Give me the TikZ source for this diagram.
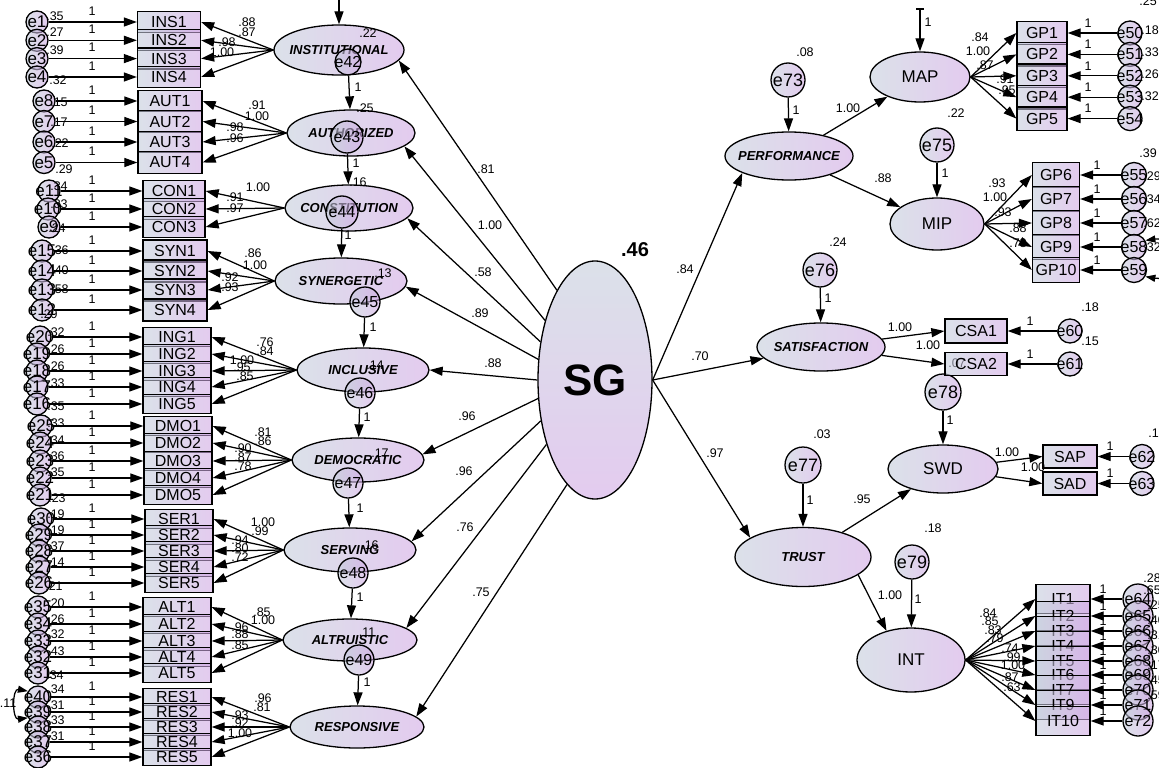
\documentclass[tikz,border=0pt]{standalone}
\usepackage{fontspec}
\setmainfont{Liberation Sans}
\usetikzlibrary{shapes.geometric,arrows.meta}
\definecolor{gL}{HTML}{C2CCDA}
\definecolor{gR}{HTML}{D0A6E4}
\newcommand{\zw}[1]{\makebox[0pt]{#1}}
\begin{document}
\begin{tikzpicture}[x=1pt,y=-1pt,
  base/.style={draw, line width=1.3pt, inner sep=0pt, fill opacity=0.58, text opacity=1, left color=gL, right color=gR},
  obs/.style={base, rectangle, font=\fontsize{16}{16}\selectfont},
  lat/.style={base, ellipse, font=\bfseries\itshape\fontsize{13}{13}\selectfont},
  latp/.style={base, ellipse, font=\fontsize{17}{17}\selectfont},
  errL/.style={base, circle, minimum size=22, font=\fontsize{17}{17}\selectfont},
  errR/.style={base, circle, font=\fontsize{16}{16}\selectfont},
  errB/.style={base, circle, font=\fontsize{18}{18}\selectfont},
  num/.style={inner sep=0pt, font=\fontsize{12.5}{12.5}\selectfont},
  arr/.style={line width=1.25pt, -{Triangle[length=13pt,width=9pt]}},
  cov/.style={line width=1.25pt, {Triangle[length=10pt,width=7pt]}-{Triangle[length=10pt,width=7pt]}}]
\fill[white] (0,0) rectangle (1159,768);
\useasboundingbox (0,0) rectangle (1159,768);
\clip (0,0) rectangle (1159,768);

% ---------- indicator rows: name/y/xc/w/h/latent/error/ex/var/vx/vy/load/lx/ly
\def\leftrows{
INS1/22/169/63/21/INST/e1/37/.35/55/16/.88/247/22,
INS2/40.3/169/63/21/INST/e2/37/.27/55/32/.87/247/32,
INS3/58.6/169/63/21/INST/e3/37/.39/55/50/.98/227/42,
INS4/77/169/63/21/INST/e4/37/.32/58/80/1.00/222/52,
AUT1/101/170/64/21.5/AUTH/e8/44/.15/59/102/.91/257/105,
AUT2/121.5/170/64/21.5/AUTH/e7/44/.17/59/122/1.00/257/116,
AUT3/142/170/64/21.5/AUTH/e6/44/.22/60/143/.98/235/127,
AUT4/162.5/170/64/21.5/AUTH/e5/44/.29/64/169/.96/235/138,
CON1/191/174/62/20.5/CONST/e11/49/.34/59/186/1.00/258/187,
CON2/209/174/62/20.5/CONST/e10/48/.33/59/204/.91/235/197,
CON3/227/174/62/20.5/CONST/e9/49/.24/57/228/.97/235/208,
SYN1/251/175/64/22/SYN/e15/42/.36/60/250/.86/253/253,
SYN2/271/175/64/22/SYN/e14/42/.40/60/270/1.00/255/265,
SYN3/290/175/64/22/SYN/e13/42/.58/60/289/.92/230/277,
SYN4/310/175/64/22/SYN/e12/42/.29/49/314/.93/230/287,
ING1/337/177/68/19/INCL/e20/40/.32/56/332/.76/265/342,
ING2/354/177/68/19/INCL/e19/37/.26/56/349/.84/265/351,
ING3/371/177/68/19/INCL/e18/37/.26/56/366/1.00/242/360,
ING4/387/177/68/19/INCL/e17/37/.33/56/383/.95/242/367,
ING5/404/177/68/19/INCL/e16/37/.35/56/406/.85/245/376,
DMO1/426/178/68/19.5/DEMO/e25/41/.33/56/423/.81/263/432,
DMO2/443/178/68/19.5/DEMO/e24/40/.34/56/440/.86/263/441,
DMO3/461/178/68/19.5/DEMO/e23/40/.36/56/456/.90/243/448,
DMO4/478/178/68/19.5/DEMO/e22/40/.35/56/472/.87/243/457,
DMO5/495/178/68/19.5/DEMO/e21/40/.23/57/498/.78/243/466,
SER1/519/179/68/18.5/SERV/e30/41/.19/56/514/1.00/263/522,
SER2/535/179/68/18.5/SERV/e29/39/.19/56/530/.99/260/531,
SER3/551/179/68/18.5/SERV/e28/39/.37/56/546/.94/240/540,
SER4/567/179/68/18.5/SERV/e27/39/.14/56/562/.80/240/548,
SER5/583/179/68/18.5/SERV/e26/39/.21/54/586/.72/240/557,
ALT1/607/177/68/19/ALTR/e35/38/.20/56/603/.85/262/612,
ALT2/624/177/68/19/ALTR/e34/38/.26/56/619/1.00/263/620,
ALT3/641/177/68/19/ALTR/e33/38/.32/56/634/.96/240/627,
ALT4/657/177/68/19/ALTR/e32/38/.43/56/651/.88/240/634,
ALT5/673/177/68/19/ALTR/e31/38/.34/55/675/.85/240/645,
RES1/697/177/68/17.5/RESP/e40/38/.34/56/689/.96/263/698,
RES2/712/177/68/17.5/RESP/e39/38/.31/56/705/.81/262/707,
RES3/727/177/68/17.5/RESP/e38/38/.33/56/720/.93/240/715,
RES4/742/177/68/17.5/RESP/e37/38/.31/56/736/.92/240/723,
RES5/757/177/68/17.5/RESP/e36/38/{}/56/752/1.00/240/733}

% name/y/xc/w/h/source/error/ex/size/var/vx/vy/load/lx/ly/one-x
\def\rightrows{
GP1/33/1042/50/23.5/MAP.east/e50/1130/24/.25/1148/1/.84/980/37/1088,
GP2/54.4/1042/50/23.5/MAP.east/e51/1130/24/.18/1150/30/1.00/978/51/1088,
GP3/75.8/1042/50/23.5/MAP.east/e52/1130/24/.33/1150/52/.87/985/65/1088,
GP4/97.2/1042/50/23.5/MAP.east/e53/1130/24/.26/1150/74/.91/1005/79/1088,
GP5/118.6/1042/50/23.5/MAP.east/e54/1130/24/.32/1150/96/.95/1007/90/1088,
GP6/175/1056/47/25/MIP.east/e55/1134/25/.39/1148/153/.93/997/183/1097,
GP7/199/1056/47/25/MIP.east/e56/1134/25/.29/1152/176/1.00/995/197/1097,
GP8/223/1056/47/25/MIP.east/e57/1134/25/.34/1152/199/.93/1003/212/1097,
GP9/247/1056/47/25/MIP.east/e58/1134/25/.62/1152/223/.88/1018/228/1097,
GP10/270/1056/47/25/MIP.east/e59/1134/25/.32/1152/247/.73/1018/243/1097,
CSA1/331/976/62/24/SATIS/e60/1070/24/.18/1090/307/1.00/900/327/1030,
CSA2/364/976/62/23/SATIS/e61/1070/24/.15/1090/341/1.00/928/345/1030,
SAP/456.5/1070/54/23/SWD/e62/1142/24/.13/1157/433/1.00/1007/452/1110,
SAD/483.5/1070/54/23/SWD/e63/1142/24/{}/1157/460/1.00/1033/467/1110,
IT1/599/1063/54/29/INT.east/e64/1138/30/.28/1152/578/.84/988/613/1103,
IT2/616/1063/54/29/INT.east/e65/1138/30/.65/1152/590/.85/990/621/1103,
IT3/631/1063/54/29/INT.east/e66/1138/30/.25/1156/605/.83/993/630/1103,
IT4/646/1063/54/29/INT.east/e67/1138/30/.40/1156/620/.79/995/638/1103,
IT5/661/1063/54/29/INT.east/e68/1138/30/.31/1156/635/.74/1010/648/1103,
IT6/675/1063/54/29/INT.east/e69/1138/30/.30/1156/650/.99/1012/657/1103,
IT7/690/1063/54/29/INT.east/e70/1138/30/.17/1156/665/1.00/1013/665/1103,
IT9/705/1063/54/29/INT.east/e71/1138/30/.45/1156/680/.87/1010/677/1103,
IT10/721/1063/54/29/INT.east/e72/1138/30/.59/1156/695/.63/1012/687/1103}

% ---------- second-order factors
\node[lat, minimum width=130, minimum height=50] (INST) at (339,50) {\zw{INSTITUTIONAL}};
\node[lat, minimum width=128, minimum height=46] (AUTH) at (351,133) {\zw{AUTHORIZED}};
\node[lat, minimum width=128, minimum height=46] (CONST) at (349,208) {\zw{CONSTITUTION}};
\node[lat, minimum width=132, minimum height=46] (SYN) at (341,281) {\zw{SYNERGETIC}};
\node[lat, minimum width=132, minimum height=44] (INCL) at (363,370) {\zw{INCLUSIVE}};
\node[lat, minimum width=132, minimum height=44] (DEMO) at (358,460) {\zw{DEMOCRATIC}};
\node[lat, minimum width=132, minimum height=44] (SERV) at (350,550) {\zw{SERVING}};
\node[lat, minimum width=134, minimum height=42] (ALTR) at (350,640) {\zw{ALTRUISTIC}};
\node[lat, minimum width=134, minimum height=42] (RESP) at (357,727) {\zw{RESPONSIVE}};

\node[errR, minimum size=26] (e42) at (348,62) {\zw{e42}};
\node[errR, minimum size=32] (e43) at (347,137) {\zw{e43}};
\node[errR, minimum size=32] (e44) at (342,212) {\zw{e44}};
\node[errR, minimum size=30] (e45) at (365,302) {\zw{e45}};
\node[errR, minimum size=30] (e46) at (360,393) {\zw{e46}};
\node[errR, minimum size=30] (e47) at (348,483) {\zw{e47}};
\node[errR, minimum size=30] (e48) at (353,573) {\zw{e48}};
\node[errR, minimum size=30] (e49) at (359,660) {\zw{e49}};

% ---------- central factor
\node[base, ellipse, top color=gL, bottom color=gR, minimum width=114, minimum height=238,
      font=\bfseries\fontsize{44}{44}\selectfont] (SG) at (595,380) {\zw{SG}};
\node[inner sep=0pt, font=\bfseries\fontsize{20}{20}\selectfont] (sgvar) at (635,250) {.46};

% ---------- right-hand factors
\node[lat, minimum width=128, minimum height=48] (PERF) at (789,156) {\zw{PERFORMANCE}};
\node[latp, minimum width=100, minimum height=50] (MAP) at (920,77) {\zw{MAP}};
\node[latp, minimum width=94, minimum height=52] (MIP) at (937,224) {\zw{MIP}};
\node[lat, minimum width=128, minimum height=48] (SATIS) at (821,347) {\zw{SATISFACTION}};
\node[latp, minimum width=110, minimum height=48] (SWD) at (943,469) {\zw{SWD}};
\node[lat, minimum width=136, minimum height=59] (TRUST) at (803,557) {\zw{TRUST}};
\node[latp, minimum width=108, minimum height=64] (INT) at (911,660) {\zw{INT}};

\node[errB, minimum size=34] (e73) at (788,80) {\zw{e73}};
\node[errB, minimum size=34] (e75) at (937,145) {\zw{e75}};
\node[errB, minimum size=34] (e76) at (820,270) {\zw{e76}};
\node[num] (v78) at (957,363) {.07};
\node[errB, minimum size=36] (e78) at (943,392) {\zw{e78}};
\node[errB, minimum size=36] (e77) at (803,465) {\zw{e77}};
\node[errB, minimum size=34] (e79) at (912,562) {\zw{e79}};

% ---------- indicator boxes and their error terms
\foreach \nm/\yy/\xc/\ww/\hh/\lt/\en/\ex/\va/\vx/\vy/\ld/\lx/\ly in \leftrows {
  \node[obs, minimum width=\ww, minimum height=\hh] (\nm) at (\xc,\yy) {\nm};
  \node[errL] (\en) at (\ex,\yy) {\zw{\en}};
}
\foreach \nm/\yy/\xc/\ww/\hh/\lt/\en/\ex/\es/\va/\vx/\vy/\ld/\lx/\ly/\ox in \rightrows {
  \node[obs, minimum width=\ww, minimum height=\hh] (\nm) at (\xc,\yy) {\nm};
  \node[errR, minimum size=\es] (\en) at (\ex,\yy) {\zw{\en}};
}

% ---------- paths
\foreach \nm/\yy/\xc/\ww/\hh/\lt/\en/\ex/\va/\vx/\vy/\ld/\lx/\ly in \leftrows {
  \draw[arr] (\en) -- (\nm.west);
  \draw[arr] (\lt.west) -- (\nm.east);
  \node[num] (v\en) at (\vx,\vy) {\va};
  \node[num] (o\nm) at (92,\yy-11) {1};
  \node[num] (w\nm) at (\lx,\ly) {\ld};
}
\foreach \nm/\yy/\xc/\ww/\hh/\lt/\en/\ex/\es/\va/\vx/\vy/\ld/\lx/\ly/\ox in \rightrows {
  \draw[arr] (\en) -- (\nm.east);
  \draw[arr] (\lt) -- (\nm.west);
  \node[num] (v\en) at (\vx,\vy) {\va};
  \node[num] (o\nm) at (\ox,\yy-10) {1};
  \node[num] (w\nm) at (\lx,\ly) {\ld};
}

% disturbances of the first-order factors
\coordinate (instin) at (339,-2);
\draw[arr] (instin) -- (INST);
\foreach \ee/\tt/\ox/\oy/\va/\vx/\vy in {e42/AUTH/358/87/.22/368/33, e43/CONST/356/163/.25/365/108,
    e44/SYN/348/235/.16/358/182, e45/INCL/373/327/.13/383/273, e46/DEMO/367/417/.14/375/365,
    e47/SERV/360/508/.17/380/453, e48/ALTR/360/597/.16/370/545, e49/RESP/367/682/.11/367/632} {
  \draw[arr] (\ee) -- (\tt);
  \node[num] (o\ee) at (\ox,\oy) {1};
  \node[num] (v\ee) at (\vx,\vy) {\va};
}

% structural paths from SG
\draw[arr] (SG.113) -- (INST.-10);
\draw[arr] (SG.130) -- (AUTH.-14);
\draw[arr] (SG.145) -- (CONST.-10);
\draw[arr] (SG.160) -- (SYN.-5);
\draw[arr] (SG.180) -- (INCL.east);
\draw[arr] (SG.198) -- (DEMO.5);
\draw[arr] (SG.217) -- (SERV.8);
\draw[arr] (SG.233) -- (ALTR.12);
\draw[arr] (SG.255) -- (RESP.10);
\draw[arr] (SG.east) -- (PERF.200);
\draw[arr] (SG.east) -- (SATIS);
\draw[arr] (SG.east) -- (TRUST.160);
\foreach \nn/\tx/\xx/\yy in {p1/.81/486/169, p2/1.00/490/225, p3/.58/483/272, p4/.89/480/313,
    p5/.88/493/363, p6/.96/467/416, p7/.96/464/471, p8/.76/465/527, p9/.75/481/592,
    p10/.84/685/269, p11/.70/700/356, p12/.97/715/453}
  \node[num] (\nn) at (\xx,\yy) {\tx};

% right-hand structure
\draw[arr] (PERF) -- (MAP);
\draw[arr] (PERF) -- (MIP);
\draw[arr] (TRUST) -- (SWD);
\draw[arr] (TRUST.-18) -- (INT.130);
\node[num] (q1) at (848,108) {1.00};
\node[num] (q2) at (883,178) {.88};
\node[num] (q3) at (862,499) {.95};
\node[num] (q4) at (890,595) {1.00};

\coordinate (mapin) at (920,9);
\draw[line width=1.25pt] (mapin) ++(-4,0) -- ++(8,0);
\draw[arr] (mapin) -- (MAP);
\node[num] (omap) at (928,22) {1};

\foreach \ee/\tt/\ox/\oy/\va/\vx/\vy in {e73/PERF/796/110/.08/805/52, e75/MIP/945/173/.22/956/113,
    e76/SATIS/828/298/.24/838/242, e78/SWD/950/420/{}/957/363, e77/TRUST/810/500/.03/822/434,
    e79/INT/918/599/.18/933/528} {
  \draw[arr] (\ee) -- (\tt);
  \node[num] (o\ee) at (\ox,\oy) {1};
  \node[num] (v\ee) at (\vx,\vy) {\va};
}

% covariances
\draw[cov] (e40.150) .. controls (12,688) and (12,720) .. (e39.210);
\node[num] (c1) at (8,703) {.11};
\draw[cov] (e58.30) .. controls (1176,236) and (1176,282) .. (e59.-30);
\end{tikzpicture}
\end{document}
